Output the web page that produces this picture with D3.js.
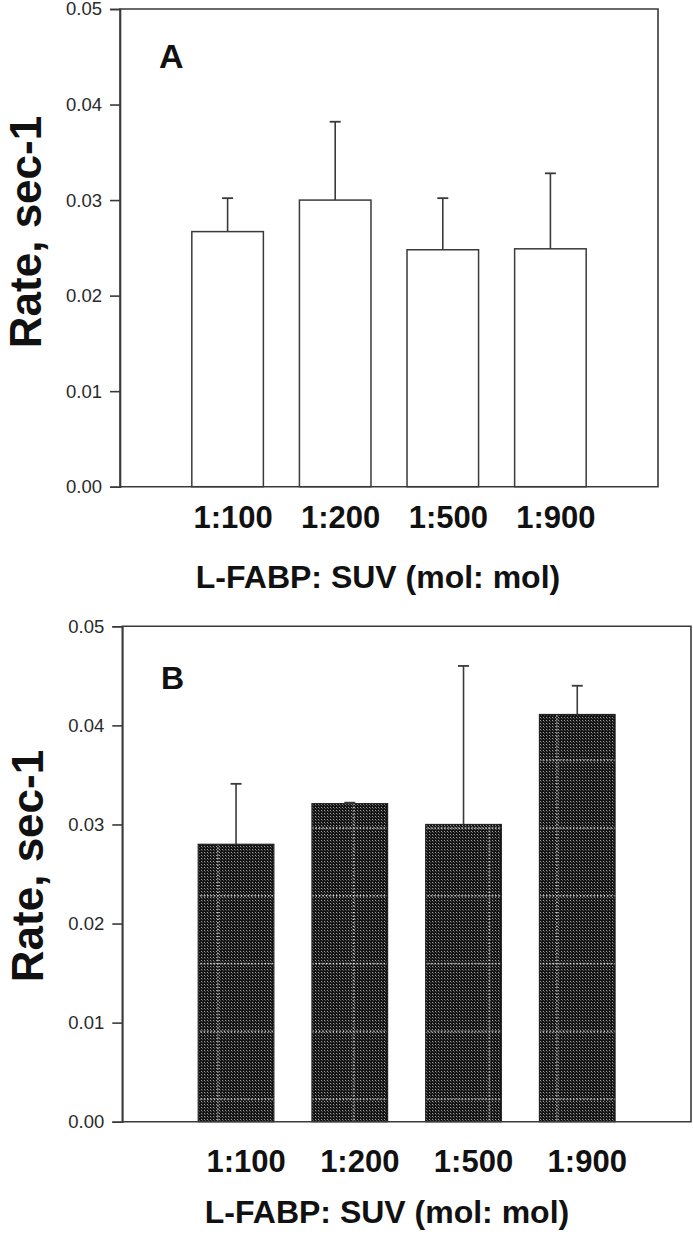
<!DOCTYPE html>
<html>
<head>
<meta charset="utf-8">
<script src="https://cdn.jsdelivr.net/npm/d3@7"></script>
<style>
  html, body { margin: 0; padding: 0; background: #fff; }
  svg { display: block; }
  text { font-family: "Liberation Sans", Arial, sans-serif; }
</style>
</head>
<body>
<script>
// ---- data ----
const categories = ["1:100", "1:200", "1:500", "1:900"];
const valuesA = [0.0267, 0.0300, 0.0248, 0.0249];
const errorsA = [0.0035, 0.0082, 0.0054, 0.0079];
const valuesB = [0.0280, 0.0321, 0.0300, 0.0411];
const errorsB = [0.0061, 0.0001, 0.0160, 0.0029];
const yTicks = [0, 0.01, 0.02, 0.03, 0.04, 0.05];
const panelLetters = ["A", "B"];
const yTitle = "Rate, sec-1";
const xTitle = "L-FABP: SUV (mol: mol)";

const W = 693, H = 1235;
const svg = d3.select("body").append("svg").attr("width", W).attr("height", H);
const defs = svg.append("defs");

// fine dot texture
const dots = defs.append("pattern").attr("id", "dots")
  .attr("patternUnits", "userSpaceOnUse").attr("width", 3).attr("height", 3);
dots.append("rect").attr("width", 3).attr("height", 3).attr("fill", "#141414");
dots.append("rect").attr("x", 0).attr("y", 0).attr("width", 1).attr("height", 1).attr("fill", "#a0a0a0");
dots.append("rect").attr("x", 1).attr("y", 1).attr("width", 1).attr("height", 1).attr("fill", "#505050");

// dotted white grid overlay
const P = 67.8;
const grid = defs.append("pattern").attr("id", "grid")
  .attr("patternUnits", "userSpaceOnUse").attr("width", P).attr("height", P)
  .attr("x", 218 - 0.75).attr("y", 828 - 0.75);
grid.append("line").attr("x1", 0).attr("x2", P).attr("y1", 0.75).attr("y2", 0.75)
  .attr("stroke", "#fff").attr("stroke-width", 1.4).attr("stroke-dasharray", "1.2,2.2");
grid.append("line").attr("y1", 0).attr("y2", P).attr("x1", 0.75).attr("x2", 0.75)
  .attr("stroke", "#fff").attr("stroke-width", 1.4).attr("stroke-dasharray", "1.2,2.2");

const panels = [
  { letter: panelLetters[0], values: valuesA, errors: errorsA, left: 120, right: 658, top: 9, bottom: 486.7,
    filled: false, catDx: 5.5, catY: 528, titleY: 588, titleX: 378, yTitleX: 41, yTitleY: 232,
    letterX: 159, letterY: 68, letterSize: 34 },
  { letter: panelLetters[1], values: valuesB, errors: errorsB, left: 122.3, right: 691, top: 626.3, bottom: 1121.7,
    filled: true, catDx: 10, catY: 1172, titleY: 1223, titleX: 387, yTitleX: 43, yTitleY: 866,
    letterX: 161, letterY: 689, letterSize: 32 }
];

const lineCol = "#3a3a3a";

panels.forEach(p => {
  const g = svg.append("g");
  const x = d3.scaleLinear().domain([0, 5]).range([p.left, p.right]);
  const y = d3.scaleLinear().domain([0, 0.05]).range([p.bottom, p.top]);
  const bw = (x(1) - x(0)) * 0.665;

  // bars
  if (p.filled) {
    g.selectAll(".bar").data(p.values).enter().append("rect")
      .attr("x", (d, i) => x(i + 1) - bw / 2).attr("y", d => y(d))
      .attr("width", bw).attr("height", d => y(0) - y(d))
      .attr("fill", "url(#dots)");
    g.selectAll(".ov").data(p.values).enter().append("rect")
      .attr("x", (d, i) => x(i + 1) - bw / 2).attr("y", d => y(d))
      .attr("width", bw).attr("height", d => y(0) - y(d))
      .attr("fill", "url(#grid)").attr("stroke", "#222").attr("stroke-width", 1.2);
  } else {
    g.selectAll(".bar").data(p.values).enter().append("rect")
      .attr("x", (d, i) => x(i + 1) - bw / 2).attr("y", d => y(d))
      .attr("width", bw).attr("height", d => y(0) - y(d))
      .attr("fill", "#fff").attr("stroke", lineCol).attr("stroke-width", 1.5);
  }

  // error bars (upper only)
  const eb = g.selectAll(".err").data(p.values).enter().append("g");
  eb.append("line")
    .attr("x1", (d, i) => x(i + 1)).attr("x2", (d, i) => x(i + 1))
    .attr("y1", d => y(d)).attr("y2", (d, i) => y(d + p.errors[i]))
    .attr("stroke", lineCol).attr("stroke-width", 1.6);
  eb.append("line")
    .attr("x1", (d, i) => x(i + 1) - 5.5).attr("x2", (d, i) => x(i + 1) + 5.5)
    .attr("y1", (d, i) => y(d + p.errors[i])).attr("y2", (d, i) => y(d + p.errors[i]))
    .attr("stroke", lineCol).attr("stroke-width", 1.8);

  // frame
  g.append("path")
    .attr("d", `M${p.left},${y(0.05)}H${p.right}V${y(0)}H${p.left}Z`)
    .attr("fill", "none").attr("stroke", lineCol).attr("stroke-width", 1.6);

  // y axis
  const ax = g.append("g").attr("transform", `translate(${p.left},0)`)
    .call(d3.axisLeft(y).tickValues(yTicks).tickFormat(d3.format(".2f")).tickSize(10).tickPadding(8));
  ax.select(".domain").attr("stroke", lineCol).attr("stroke-width", 1.6);
  ax.selectAll(".tick line").attr("stroke", lineCol).attr("stroke-width", 1.6);
  ax.selectAll(".tick text").attr("font-size", 18.5).attr("fill", "#2a2a2a")
    .attr("font-family", "Liberation Sans, Arial, sans-serif");

  // category labels
  g.selectAll(".cat").data(categories).enter().append("text")
    .attr("x", (d, i) => x(i + 1) + p.catDx).attr("y", p.catY)
    .attr("text-anchor", "middle").attr("font-size", 31).attr("font-weight", "bold")
    .attr("fill", "#111").text(d => d);

  // x title
  g.append("text").attr("x", p.titleX).attr("y", p.titleY)
    .attr("text-anchor", "middle").attr("font-size", 32).attr("font-weight", "bold")
    .attr("fill", "#111").text(xTitle);

  // y title
  g.append("text").attr("transform", `translate(${p.yTitleX},${p.yTitleY}) rotate(-90)`)
    .attr("text-anchor", "middle").attr("font-size", 44).attr("font-weight", "bold")
    .attr("fill", "#111").text(yTitle);

  // panel letter
  g.append("text").attr("x", p.letterX).attr("y", p.letterY)
    .attr("font-size", p.letterSize).attr("font-weight", "bold").attr("fill", "#111").text(p.letter);
});
</script>
</body>
</html>
